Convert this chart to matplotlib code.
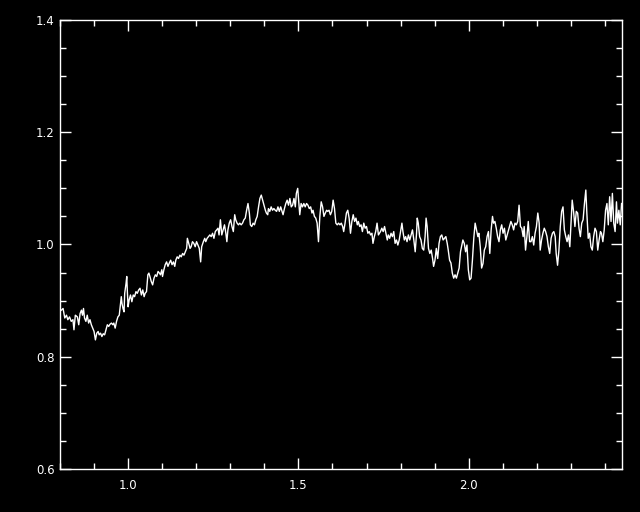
import matplotlib
matplotlib.use("Agg")
import matplotlib.pyplot as plt
from matplotlib.ticker import MultipleLocator

# spectrum
wave = [
    0.804, 0.809, 0.814, 0.819, 0.823, 0.828, 0.833, 0.838, 0.841, 0.845,
    0.851, 0.855, 0.859, 0.863, 0.866, 0.869, 0.872, 0.876, 0.880, 0.884,
    0.888, 0.892, 0.896, 0.900, 0.904, 0.908, 0.912, 0.915, 0.919, 0.923,
    0.927, 0.931, 0.935, 0.939, 0.943, 0.947, 0.951, 0.955, 0.958, 0.962,
    0.966, 0.970, 0.974, 0.978, 0.980, 0.982, 0.985, 0.988, 0.990, 0.994,
    0.996, 0.998, 1.000, 1.003, 1.007, 1.011, 1.015, 1.019, 1.023, 1.027,
    1.031, 1.035,
    1.039, 1.043, 1.047, 1.050, 1.054, 1.058, 1.061, 1.064, 1.068, 1.072,
    1.076, 1.080, 1.084, 1.088, 1.092, 1.095, 1.099, 1.101, 1.105, 1.109,
    1.113, 1.117, 1.121, 1.125, 1.129, 1.133, 1.137, 1.140, 1.144, 1.148,
    1.152, 1.156, 1.160, 1.164, 1.168, 1.172, 1.174, 1.178, 1.182, 1.185,
    1.189, 1.193, 1.197, 1.201, 1.205, 1.209, 1.213, 1.216, 1.221, 1.225,
    1.228, 1.232, 1.236, 1.240, 1.244, 1.248, 1.252, 1.256, 1.260, 1.264,
    1.267, 1.271, 1.275, 1.279, 1.283, 1.287, 1.290, 1.293, 1.297, 1.301,
    1.305, 1.309, 1.313, 1.316, 1.320, 1.324, 1.328, 1.332, 1.336, 1.340,
    1.344, 1.348, 1.352, 1.356, 1.359, 1.363, 1.367, 1.371, 1.375, 1.379,
    1.383, 1.387, 1.391, 1.395, 1.399, 1.403, 1.406, 1.410, 1.412, 1.416,
    1.420, 1.424, 1.428, 1.432, 1.436, 1.440, 1.444, 1.448, 1.451, 1.455,
    1.459, 1.463, 1.467, 1.471, 1.475, 1.479, 1.483, 1.487, 1.491, 1.494,
    1.498,
    1.504, 1.508, 1.512, 1.516, 1.520, 1.524, 1.528, 1.532, 1.536, 1.540,
    1.543, 1.547, 1.551, 1.555, 1.559, 1.563, 1.567, 1.571, 1.575, 1.579,
    1.583, 1.586, 1.590, 1.594, 1.598, 1.602, 1.606, 1.610, 1.614, 1.618,
    1.622, 1.626, 1.630, 1.633, 1.637, 1.641, 1.645, 1.649, 1.653, 1.657,
    1.661, 1.665, 1.669, 1.673, 1.676, 1.680, 1.684, 1.688, 1.692, 1.696,
    1.700, 1.704, 1.708, 1.712, 1.716, 1.719, 1.723, 1.727, 1.731, 1.735,
    1.741, 1.745, 1.749, 1.753, 1.757, 1.761, 1.764, 1.768, 1.772, 1.776,
    1.780, 1.784, 1.788, 1.792, 1.796, 1.800, 1.804, 1.807, 1.811, 1.815,
    1.819, 1.823, 1.827, 1.831, 1.835, 1.839, 1.843, 1.847, 1.849, 1.852,
    1.856, 1.860, 1.864, 1.868, 1.872, 1.875, 1.878, 1.882, 1.886, 1.890,
    1.894, 1.897, 1.901, 1.905, 1.909, 1.913, 1.917, 1.921, 1.925, 1.929,
    1.933, 1.937, 1.940, 1.944, 1.948, 1.952, 1.956, 1.960, 1.964, 1.968,
    1.972,
    1.976, 1.980, 1.983, 1.987, 1.991, 1.995, 1.999, 2.003, 2.007, 2.011,
    2.015, 2.019, 2.023, 2.027, 2.030, 2.034, 2.038, 2.042, 2.046, 2.050,
    2.054, 2.058, 2.062, 2.066, 2.070, 2.073, 2.077, 2.081, 2.085, 2.089,
    2.093, 2.097, 2.101, 2.105, 2.109, 2.113, 2.117, 2.120, 2.124, 2.128,
    2.132, 2.136, 2.140, 2.144, 2.148, 2.152, 2.156, 2.160, 2.163, 2.167,
    2.171, 2.175, 2.179, 2.183, 2.187, 2.191, 2.195, 2.199, 2.203, 2.207,
    2.210, 2.214, 2.218, 2.222, 2.226, 2.230, 2.234, 2.238, 2.242, 2.246,
    2.250, 2.254, 2.257, 2.261, 2.265, 2.269, 2.273, 2.277, 2.281, 2.285,
    2.289, 2.293, 2.297, 2.300, 2.304, 2.308, 2.312, 2.316, 2.320, 2.324,
    2.328, 2.332, 2.336, 2.340, 2.344, 2.347, 2.351, 2.355, 2.359, 2.363,
    2.367, 2.371, 2.375, 2.379, 2.383, 2.387, 2.390, 2.394, 2.398, 2.402,
    2.406, 2.410, 2.414, 2.418, 2.422, 2.426, 2.430, 2.434, 2.437, 2.441,
    2.445, 2.449,
]
flux = [
    0.883, 0.886, 0.869, 0.874, 0.866, 0.871, 0.863, 0.866, 0.848, 0.874,
    0.871, 0.857, 0.877, 0.883, 0.874, 0.886, 0.869, 0.863, 0.874, 0.860,
    0.866, 0.857, 0.851, 0.845, 0.830, 0.842, 0.845, 0.839, 0.842, 0.836,
    0.841, 0.839, 0.848, 0.857, 0.854, 0.858, 0.860, 0.857, 0.860, 0.851,
    0.863, 0.871, 0.874, 0.895, 0.907, 0.895, 0.886, 0.880, 0.913, 0.931,
    0.943, 0.913, 0.889, 0.901, 0.910, 0.898, 0.910, 0.907, 0.916, 0.913,
    0.919, 0.922,
    0.910, 0.919, 0.907, 0.913, 0.916, 0.946, 0.949, 0.943, 0.934, 0.928,
    0.940, 0.946, 0.943, 0.952, 0.949, 0.946, 0.955, 0.943, 0.955, 0.964,
    0.969, 0.961, 0.967, 0.972, 0.964, 0.969, 0.961, 0.972, 0.978, 0.975,
    0.981, 0.978, 0.984, 0.981, 0.987, 0.993, 1.011, 1.002, 0.993, 0.996,
    1.005, 1.002, 0.996, 1.005, 0.999, 0.993, 0.969, 0.996, 1.005, 1.011,
    1.005, 1.011, 1.014, 1.017, 1.014, 1.020, 1.011, 1.023, 1.026, 1.029,
    1.017, 1.044, 1.017, 1.026, 1.035, 1.020, 1.005, 1.026, 1.038, 1.044,
    1.032, 1.023, 1.053, 1.044, 1.038, 1.035, 1.038, 1.035, 1.038, 1.044,
    1.047, 1.061, 1.073, 1.056, 1.035, 1.032, 1.038, 1.035, 1.044, 1.050,
    1.067, 1.082, 1.088, 1.079, 1.070, 1.061, 1.056, 1.053, 1.064, 1.059,
    1.067, 1.061, 1.064, 1.061, 1.059, 1.067, 1.059, 1.067, 1.061, 1.053,
    1.064, 1.073, 1.079, 1.070, 1.082, 1.067, 1.070, 1.082, 1.067, 1.091,
    1.100,
    1.053, 1.073, 1.067, 1.073, 1.067, 1.073, 1.070, 1.064, 1.067, 1.056,
    1.061, 1.050, 1.047, 1.038, 1.005, 1.050, 1.076, 1.067, 1.050, 1.056,
    1.061, 1.059, 1.061, 1.053, 1.059, 1.079, 1.064, 1.038, 1.035, 1.038,
    1.035, 1.038, 1.032, 1.023, 1.038, 1.056, 1.061, 1.047, 1.020, 1.041,
    1.053, 1.041, 1.047, 1.035, 1.041, 1.032, 1.035, 1.023, 1.038, 1.029,
    1.032, 1.020, 1.023, 1.017, 1.020, 1.002, 1.014, 1.023, 1.038, 1.017,
    1.023, 1.029, 1.023, 1.032, 1.020, 1.008, 1.017, 1.011, 1.020, 1.014,
    1.023, 1.002, 1.008, 0.999, 1.008, 1.023, 1.038, 1.023, 1.008, 1.014,
    1.005, 1.017, 1.008, 1.017, 1.026, 1.008, 0.987, 1.020, 1.047, 1.038,
    1.014, 1.008, 0.993, 0.990, 1.014, 1.047, 1.032, 0.993, 0.984, 0.990,
    0.975, 0.961, 0.972, 0.993, 0.975, 1.002, 1.014, 1.017, 1.008, 1.011,
    1.014, 1.002, 0.990, 0.972, 0.967, 0.949, 0.940, 0.946, 0.940, 0.949,
    0.958,
    0.987, 0.999, 1.008, 1.002, 0.987, 0.999, 0.955, 0.937, 0.940, 0.972,
    1.011, 1.038, 1.026, 1.014, 1.020, 0.996, 0.958, 0.966, 0.990, 0.996,
    1.014, 1.023, 0.984, 1.026, 1.050, 1.038, 1.041, 1.029, 1.014, 1.005,
    1.026, 1.035, 1.020, 1.029, 1.008, 1.017, 1.026, 1.032, 1.041, 1.035,
    1.026, 1.038, 1.035, 1.041, 1.070, 1.032, 1.029, 1.014, 1.032, 0.990,
    1.014, 1.041, 1.005, 1.005, 1.014, 0.999, 1.020, 1.032, 1.056, 1.038,
    0.990, 1.008, 1.020, 1.029, 1.023, 1.014, 0.996, 0.984, 1.011, 1.020,
    1.023, 1.014, 0.984, 0.963, 0.990, 1.032, 1.059, 1.067, 1.026, 1.014,
    1.005, 1.017, 0.996, 1.032, 1.079, 1.059, 1.032, 1.059, 1.056, 1.029,
    1.014, 1.038, 1.044, 1.073, 1.097, 1.056, 1.011, 1.020, 0.996, 0.990,
    1.014, 1.029, 1.023, 0.990, 1.008, 1.023, 1.020, 1.005, 1.026, 1.061,
    1.073, 1.035, 1.085, 1.041, 1.091, 1.038, 1.023, 1.076, 1.038, 1.061,
    1.035, 1.073,
]

x_ticks = [1.0, 1.5, 2.0]
y_ticks = [0.6, 0.8, 1.0, 1.2, 1.4]

plt.rcParams['font.family'] = ['DejaVu Sans']

fig = plt.figure(figsize=(6.4, 5.12), dpi=100, facecolor='black')
ax = fig.add_axes([0.09375, 0.084, 0.878, 0.877], facecolor='black')

ax.plot(wave, flux, color='white', linewidth=1.0)

ax.set_xlim(0.8, 2.45)
ax.set_ylim(0.6, 1.4)
ax.set_xticks(x_ticks)
ax.set_yticks(y_ticks)
ax.set_xticklabels(['%.1f' % v for v in x_ticks])
ax.set_yticklabels(['%.1f' % v for v in y_ticks])
ax.xaxis.set_minor_locator(MultipleLocator(0.1))
ax.yaxis.set_minor_locator(MultipleLocator(0.05))

for side in ax.spines.values():
    side.set_color('white')
    side.set_linewidth(1.0)

ax.tick_params(which='both', direction='in', colors='white', top=True, right=True,
               labelsize=8.5, width=1.0)
ax.tick_params(which='major', length=8)
ax.tick_params(which='minor', length=4.5)
ax.tick_params(axis='x', pad=7)
ax.tick_params(axis='y', pad=4)

fig.savefig('out.png', dpi=100, facecolor='black')
